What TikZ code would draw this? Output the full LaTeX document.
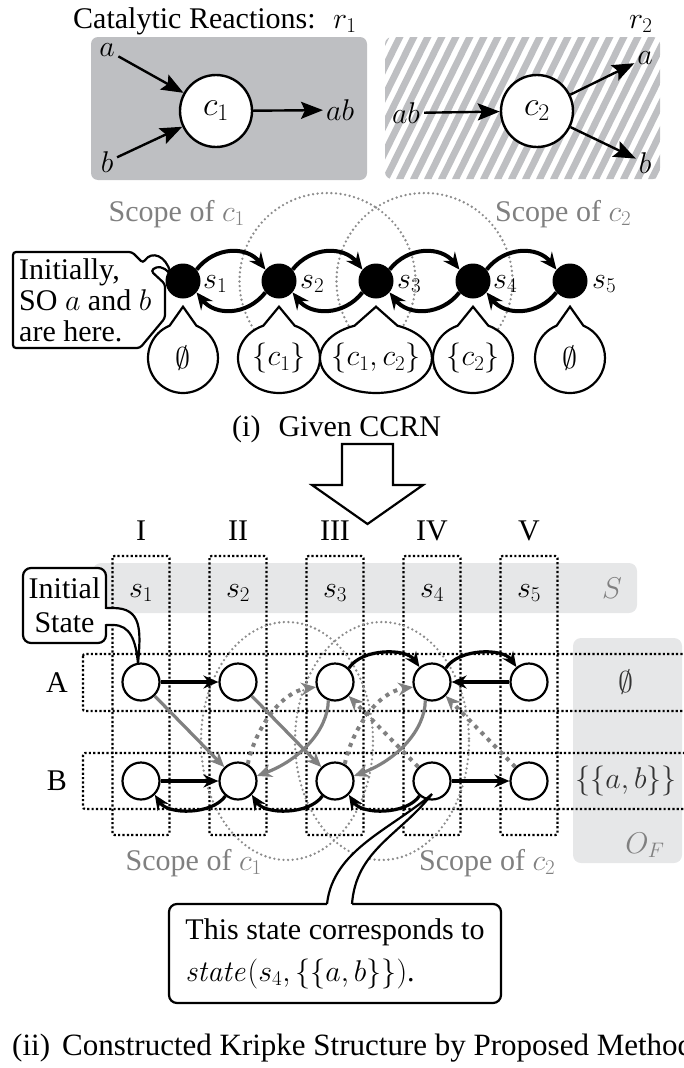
\RequirePackage{fix-cm}
\documentclass[tikz,border=0pt]{standalone}
\usepackage[no-math]{fontspec}
\setmainfont{Liberation Serif}
\usetikzlibrary{arrows.meta,shapes.geometric,shapes.callouts,calc}

\definecolor{panelgray}{RGB}{190,191,194}
\definecolor{bandgray}{RGB}{230,231,232}
\definecolor{scopegray}{RGB}{140,140,140}
\definecolor{flowgray}{RGB}{128,128,128}
\definecolor{labelgray}{RGB}{128,128,128}

\newcommand{\fbig}{\fontsize{30}{33}\selectfont}
\newcommand{\fcirc}{\fontsize{34}{36}\selectfont}

\begin{document}
\begin{tikzpicture}[x=1pt,y=-1pt,
  txt/.style={font=\fbig, inner sep=0pt},
  catnode/.style={circle, draw, line width=2.4pt, fill=white, minimum size=72pt, inner sep=0pt, font=\fcirc},
  rarrow/.style={line width=2.4pt, -{Stealth[length=22pt,width=17pt,inset=4pt]}},
  sdot/.style={circle, fill=black, minimum size=35pt, inner sep=0pt},
  cflow/.style={line width=4pt, -{Stealth[length=17pt,width=15pt,inset=6pt]}},
  bubble/.style={ellipse callout, draw, line width=2.2pt, fill=white, inner sep=0pt, minimum height=70pt, callout pointer arc=45},
  scoperim/.style={draw=scopegray, line width=2.6pt, line cap=round, dash pattern=on 0pt off 4.6pt},
  cellbox/.style={draw=black, line width=2.2pt, dash pattern=on 2.2pt off 2.2pt, rounded corners=2pt},
  kstate/.style={circle, draw, line width=2.2pt, fill=white, minimum size=37pt, inner sep=0pt},
  kflow/.style={line width=3.2pt, -{Stealth[length=15pt,width=13pt,inset=5pt]}},
  gflow/.style={draw=flowgray, line width=3.2pt, -{Stealth[length=15pt,width=13pt,inset=5pt]}},
  gdot/.style={draw=flowgray, line width=4pt, dash pattern=on 4pt off 5pt, -{Stealth[length=15pt,width=13pt,inset=5pt]}},
  callbox/.style={draw, line width=2.2pt, fill=white},
]
\useasboundingbox (0,0) rectangle (684,1068);

% ---------------- catalytic reactions ----------------
\node[txt, anchor=base west] (title) at (73,28) {Catalytic Reactions:};
\node[txt, anchor=base west] (r1) at (333,28) {$r_1$};
\node[txt, anchor=base west] (r2) at (629,28) {$r_2$};

\fill[panelgray, rounded corners=7pt] (91,37) rectangle (367,180);
\begin{scope}
  \clip[rounded corners=7pt] (385,37) rectangle (660,179);
  \foreach \k in {0,...,26} {
    \fill[panelgray] ({312+14*\k},179) -- ++(7.5,0) -- ++(70,-142) -- ++(-7.5,0) -- cycle;
  }
\end{scope}

\node[catnode] (c1) at (216,111) {$c_1$};
\node[txt] (ra) at (107,50) {$a$};
\node[txt] (rb) at (107,162) {$b$};
\node[txt, anchor=west] (rab) at (326,110) {$ab$};
\draw[rarrow, shorten <=4pt] (ra) -- (c1);
\draw[rarrow, shorten <=4pt] (rb) -- (c1);
\draw[rarrow, shorten >=3pt] (c1) -- (rab);

\node[txt] (rab2) at (406,113) {$ab$};
\node[catnode] (c2) at (537,111) {$c_2$};
\node[txt] (ra2) at (645,58) {$a$};
\node[txt] (rb2) at (645,163) {$b$};
\draw[rarrow, shorten <=4pt] (rab2) -- (c2);
\draw[rarrow, shorten >=3pt] (c2) -- (ra2);
\draw[rarrow, shorten >=3pt] (c2) -- (rb2);

% ---------------- given CCRN ----------------
\draw[scoperim] (327.5,281) circle[radius=88];
\draw[scoperim] (424.5,281) circle[radius=88];
\node[txt, text=labelgray, anchor=base east] (sc1) at (245,221) {Scope of $c_1$};
\node[txt, text=labelgray, anchor=base west] (sc2) at (495,221) {Scope of $c_2$};

\node[sdot] (s1) at (183,281) {};
\node[sdot] (s2) at (279,281) {};
\node[sdot] (s3) at (376,281) {};
\node[sdot] (s4) at (473,281) {};
\node[sdot] (s5) at (570,281) {};
\node[txt, anchor=base west] (l1) at (203,288) {$s_1$};
\node[txt, anchor=base west] (l2) at (300,288) {$s_2$};
\node[txt, anchor=base west] (l3) at (397,288) {$s_3$};
\node[txt, anchor=base west] (l4) at (493,288) {$s_4$};
\node[txt, anchor=base west] (l5) at (592,288) {$s_5$};

\draw[cflow] (s1.40) .. controls (215,246) and (247,246) .. (s2.140);
\draw[cflow] (s2.-140) .. controls (247,316) and (215,316) .. (s1.-40);
\draw[cflow] (s2.40) .. controls (311,246) and (344,246) .. (s3.140);
\draw[cflow] (s3.-140) .. controls (344,316) and (311,316) .. (s2.-40);
\draw[cflow] (s3.40) .. controls (408,246) and (441,246) .. (s4.140);
\draw[cflow] (s4.-140) .. controls (441,316) and (408,316) .. (s3.-40);
\draw[cflow] (s4.40) .. controls (505,246) and (538,246) .. (s5.140);
\draw[cflow] (s5.-140) .. controls (538,316) and (505,316) .. (s4.-40);

\node[bubble, minimum width=70pt, callout absolute pointer={([yshift=-8pt]s1.south)}] (b1) at (183,358) {};
\node[bubble, minimum width=82pt, callout absolute pointer={([yshift=-8pt]s2.south)}] (b2) at (279,358) {};
\node[bubble, minimum width=112pt, callout absolute pointer={([yshift=-8pt]s3.south)}] (b3) at (376,358) {};
\node[bubble, minimum width=80pt, callout absolute pointer={([yshift=-8pt]s4.south)}] (b4) at (473,358) {};
\node[bubble, minimum width=70pt, callout absolute pointer={([yshift=-8pt]s5.south)}] (b5) at (570,358) {};
\node[txt] (b1t) at (b1.center) {$\emptyset$};
\node[txt] (b2t) at (b2.center) {$\{c_1\}$};
\node[txt] (b3t) at (b3.center) {$\{c_1,c_2\}$};
\node[txt] (b4t) at (b4.center) {$\{c_2\}$};
\node[txt] (b5t) at (b5.center) {$\emptyset$};

\draw[callbox, rounded corners=3pt] (13,252) -- (132,252) -- (143,263)
  .. controls (152,250) and (166,256) .. (171,275)
  .. controls (163,266) and (157,266) .. (151,271)
  -- (165,284) -- (165,318) -- (140,348) -- (13,348) -- cycle;
\node[txt, align=left, anchor=north west, font=\fontsize{30}{31}\selectfont] (initially) at (19,258) {Initially,\\SO $a$ and $b$\\are here.};

\node[txt, anchor=base west] (cap1) at (232,436) {(i)\hspace{18pt}Given CCRN};

% ---------------- transformation arrow ----------------
\draw[line width=2.2pt, fill=white] (342,444) -- (393,444) -- (393,485) -- (423,485) -- (367.5,524) -- (312,485) -- (342,485) -- cycle;

% ---------------- Kripke structure ----------------
\fill[bandgray, rounded corners=8pt] (93,563) rectangle (637,613);
\fill[bandgray, rounded corners=8pt] (573,638) rectangle (682,863);

\foreach \cx/\rn in {141/I,238/II,335/III,432/IV,529/V} {
  \node[txt, anchor=base] (rn\rn) at (\cx,540) {\rn};
  \draw[cellbox] ({\cx-28.5},556) rectangle ({\cx+28.5},835);
}
\draw[cellbox] (83,654) rectangle (700,711);
\draw[cellbox] (83,753) rectangle (700,809);

\node[txt, anchor=base] (k1) at (141,597) {$s_1$};
\node[txt, anchor=base] (k2) at (238,597) {$s_2$};
\node[txt, anchor=base] (k3) at (335,597) {$s_3$};
\node[txt, anchor=base] (k4) at (432,597) {$s_4$};
\node[txt, anchor=base] (k5) at (529,597) {$s_5$};
\node[txt, text=labelgray, anchor=base] (Sl) at (612,598) {$S$};
\node[txt, text=black!80] (o1) at (626,682) {$\emptyset$};
\node[txt, text=black!80] (o2) at (626,781) {$\{\{a,b\}\}$};
\node[txt, text=labelgray] (OF) at (645,845) {$O_F$};
\node[txt] (rowA) at (57,683) {A};
\node[txt] (rowB) at (57,781) {B};

\draw[scoperim] (287,741) ellipse[x radius=86, y radius=119];
\draw[scoperim] (382,741) ellipse[x radius=87, y radius=119];
\node[txt, text=labelgray, anchor=base east] (ksc1) at (262,870) {Scope of $c_1$};
\node[txt, text=labelgray, anchor=base west] (ksc2) at (419,870) {Scope of $c_2$};

\node[kstate] (A1) at (141,682) {};
\node[kstate] (A2) at (238,682) {};
\node[kstate] (A3) at (335,682) {};
\node[kstate] (A4) at (432,682) {};
\node[kstate] (A5) at (529,682) {};
\node[kstate] (B1) at (141,781) {};
\node[kstate] (B2) at (238,781) {};
\node[kstate] (B3) at (335,781) {};
\node[kstate] (B4) at (432,781) {};
\node[kstate] (B5) at (529,781) {};

% gray solid moves
\draw[gflow] (A1) -- (B2);
\draw[gflow] (A2) -- (B3);
\draw[gflow] (A3.-110) .. controls (328,730) and (300,760) .. (B2.15);
\draw[gflow] (A4.-110) .. controls (425,730) and (397,760) .. (B3.15);
% gray dotted moves
\draw[gdot] (B2.60) .. controls (255,730) and (280,692) .. (A3.195);
\draw[gdot] (B3.60) .. controls (352,730) and (377,692) .. (A4.195);
\draw[gdot] (B4) -- (A3);
\draw[gdot] (B5) -- (A4);
% black moves
\draw[kflow] (A1) -- (A2);
\draw[kflow] (B1) -- (B2);
\draw[kflow] (A5) -- (A4);
\draw[kflow] (B4) -- (B5);
\draw[kflow] (B2.-130) .. controls (212,815) and (168,815) .. (B1.-45);
\draw[kflow] (B3.-130) .. controls (309,815) and (265,815) .. (B2.-45);
\draw[kflow] (B4.-130) .. controls (406,815) and (362,815) .. (B3.-45);
\draw[kflow] (A3.45) .. controls (362,648) and (406,648) .. (A4.130);
\draw[kflow] (A4.45) .. controls (459,648) and (503,648) .. (A5.130);

% initial state callout
\node[callbox, rounded corners=8pt, minimum width=83pt, minimum height=75pt, inner sep=0pt, align=center, font=\fontsize{30}{34}\selectfont] (init) at (64.5,605.5) {Initial\\State};
\fill[white] (104,609) -- (113,609) .. controls (141,609) and (140,630) .. (138,662) .. controls (136,640) and (130,624) .. (113,624) -- (104,624) -- cycle;
\draw[line width=2.2pt] (106,608) -- (113,608) .. controls (142,608) and (141,630) .. (138,664) .. controls (136,640) and (130,625) .. (113,625) -- (106,625);

% state callout
\node[callbox, rounded corners=8pt, minimum width=332pt, minimum height=99pt, inner sep=0pt, align=left, font=\fontsize{30}{34}\selectfont] (note) at (335,953.5) {This state corresponds to\\[8pt]$\mathit{state}(s_4,\{\{a,b\}\})$.};
\fill[white] (327,907) -- (327,904) .. controls (333,850) and (390,830) .. (432,794) .. controls (400,835) and (356,850) .. (352,904) -- (352,907) -- cycle;
\draw[line width=2.2pt] (327,904) .. controls (333,850) and (390,830) .. (432,794) .. controls (400,835) and (356,850) .. (352,904);

\node[txt, anchor=base west, font=\fontsize{31}{34}\selectfont] (cap2) at (12,1055) {(ii)\hspace{12pt}Constructed Kripke Structure by Proposed Method};
\end{tikzpicture}
\end{document}
